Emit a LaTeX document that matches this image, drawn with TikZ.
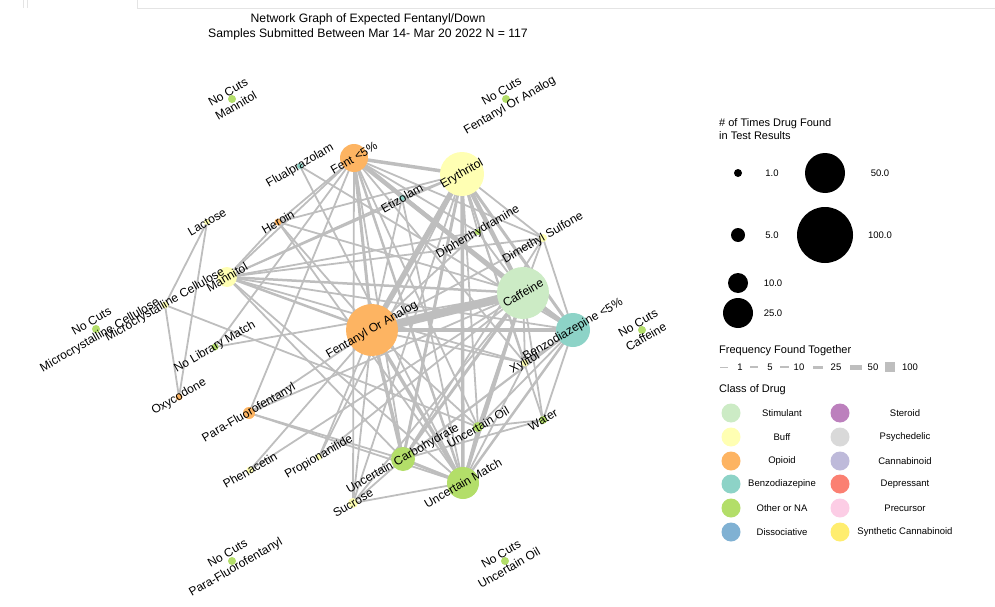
\documentclass[tikz,border=0pt]{standalone}
\usepackage{fontspec}
\setmainfont{Liberation Sans}
\definecolor{cStim}{HTML}{CCEBC5}
\definecolor{cBuff}{HTML}{FFFFB3}
\definecolor{cOpi}{HTML}{FDB462}
\definecolor{cBenz}{HTML}{8DD3C7}
\definecolor{cOth}{HTML}{B3DE69}
\definecolor{cDiss}{HTML}{80B1D3}
\definecolor{cSter}{HTML}{BC80BD}
\definecolor{cPsy}{HTML}{D9D9D9}
\definecolor{cCann}{HTML}{BEBADA}
\definecolor{cDep}{HTML}{FB8072}
\definecolor{cPre}{HTML}{FCCDE5}
\definecolor{cSyn}{HTML}{FFED6F}
\definecolor{edgecol}{RGB}{190,190,190}
\definecolor{tabline}{RGB}{228,228,228}
\tikzset{
  edge/.style={draw=edgecol, line width=1.8pt},
  dot/.style={circle, inner sep=0pt, draw=none},
  lab/.style={font=\fontsize{12}{16}\selectfont, rotate=30, inner sep=0pt, align=center},
  legtitle/.style={font=\fontsize{11}{13}\selectfont, anchor=west, inner sep=0pt, align=left},
  legtext/.style={font=\fontsize{9.5}{11}\selectfont, inner sep=0pt},
  freqseg/.style={draw=edgecol},
}
\begin{document}
\begin{tikzpicture}[x=1pt,y=-1pt]
\useasboundingbox (0,0) rectangle (995,607);
% tab artefacts
\draw[tabline, line width=0.8pt] (23,0) -- (23,8);
\draw[tabline, line width=0.8pt] (27,0) -- (27,8);
\draw[tabline, line width=0.8pt] (137,0) -- (137,8) -- (995,8);
% title
\node[font=\fontsize{12.2}{14.5}\selectfont, align=center, inner sep=0pt] (title) at (368,27)
  {Network Graph of Expected Fentanyl/Down\\Samples Submitted Between Mar 14- Mar 20 2022 N = 117};
% node positions
\coordinate (fent) at (354,158);
\coordinate (ery) at (462,174);
\coordinate (flu) at (300,166);
\coordinate (eti) at (402,198);
\coordinate (her) at (278,222);
\coordinate (lac) at (207,222);
\coordinate (diph) at (478,232);
\coordinate (dms) at (543,238);
\coordinate (man) at (227,277);
\coordinate (mcc) at (165,305);
\coordinate (nlm) at (215,347);
\coordinate (oxy) at (179,397);
\coordinate (pff) at (249,413);
\coordinate (foa) at (372,330);
\coordinate (caf) at (523,293);
\coordinate (benz) at (573,330);
\coordinate (xyl) at (525,363);
\coordinate (uoil) at (478,427);
\coordinate (wat) at (543,420);
\coordinate (uc) at (403,459);
\coordinate (um) at (463,483);
\coordinate (suc) at (353,503);
\coordinate (prop) at (319,457);
\coordinate (phen) at (250,470);
\coordinate (ncman) at (232,99);
\coordinate (ncfoa) at (506,99);
\coordinate (ncmcc) at (96,329);
\coordinate (nccaf) at (642,330);
\coordinate (ncpff) at (232,561);
\coordinate (ncuoil) at (505,561);
% edges
\foreach \a/\b/\w in {
 foa/caf/8.5, ery/foa/5.5, foa/benz/4.5, caf/benz/4.5, fent/caf/4.5, ery/caf/4.5,
 fent/ery/3.5, ery/um/3.5, foa/um/3.5, foa/uc/3.5, caf/um/3.5, caf/uc/3, ery/uc/3,
 fent/foa/3, fent/benz/3, ery/benz/3, uc/um/3, benz/um/2.5, fent/um/2.5,
 man/foa/2.5, man/caf/2.5, benz/uc/2.2}
 \draw[edge, line width=\w pt] (\a) -- (\b);
\foreach \a/\b in {
 fent/uc, fent/man, fent/pff, fent/nlm, fent/xyl, fent/uoil, fent/dms, fent/diph, fent/suc, fent/eti, fent/her,
 ery/man, ery/eti, ery/her, ery/diph, ery/dms, ery/xyl, ery/uoil, ery/suc, ery/prop, ery/wat,
 man/benz, man/um, man/uc, man/her, man/eti, man/dms, man/diph, man/xyl,
 her/foa, her/caf, her/um, flu/um, flu/benz,
 pff/foa, pff/caf, pff/um, pff/uc, phen/foa, phen/caf, prop/foa, prop/caf,
 suc/foa, suc/caf, suc/uc, suc/um,
 xyl/caf, xyl/foa, xyl/benz, xyl/um,
 uoil/caf, uoil/foa, uoil/benz, uoil/wat, uoil/um,
 wat/caf, wat/benz, wat/uc, dms/caf, dms/benz, dms/foa, dms/uc,
 diph/foa, diph/caf, eti/foa, eti/um, nlm/caf,
 lac/mcc, lac/oxy, mcc/oxy, mcc/uoil}
 \draw[edge] (\a) -- (\b);
% node circles
\node[dot, fill=cOpi, minimum size=28pt] (fentc) at (fent) {};
\node[dot, fill=cBuff, minimum size=44pt] (eryc) at (ery) {};
\node[dot, fill=cBenz, minimum size=6pt] (fluc) at (flu) {};
\node[dot, fill=cBenz, minimum size=6pt] (etic) at (eti) {};
\node[dot, fill=cOpi, minimum size=7pt] (herc) at (her) {};
\node[dot, fill=cBuff, minimum size=6pt] (lacc) at (lac) {};
\node[dot, fill=cOth, minimum size=6pt] (diphc) at (diph) {};
\node[dot, fill=cBuff, minimum size=8pt] (dmsc) at (dms) {};
\node[dot, fill=cBuff, minimum size=20pt] (manc) at (man) {};
\node[dot, fill=cBuff, minimum size=7pt] (mccc) at (mcc) {};
\node[dot, fill=cOth, minimum size=7pt] (nlmc) at (nlm) {};
\node[dot, fill=cOpi, minimum size=7pt] (oxyc) at (oxy) {};
\node[dot, fill=cOpi, minimum size=12pt] (pffc) at (pff) {};
\node[dot, fill=cOpi, minimum size=52pt] (foac) at (foa) {};
\node[dot, fill=cStim, minimum size=52pt] (cafc) at (caf) {};
\node[dot, fill=cBenz, minimum size=34pt] (benzc) at (benz) {};
\node[dot, fill=cBuff, minimum size=7pt] (xylc) at (xyl) {};
\node[dot, fill=cOth, minimum size=10pt] (uoilc) at (uoil) {};
\node[dot, fill=cOth, minimum size=8pt] (watc) at (wat) {};
\node[dot, fill=cOth, minimum size=24pt] (ucc) at (uc) {};
\node[dot, fill=cOth, minimum size=32pt] (umc) at (um) {};
\node[dot, fill=cBuff, minimum size=10pt] (succ) at (suc) {};
\node[dot, fill=cBuff, minimum size=6pt] (propc) at (prop) {};
\node[dot, fill=cBuff, minimum size=7pt] (phenc) at (phen) {};
\foreach \n in {ncman, ncfoa, ncmcc, nccaf, ncpff, ncuoil}
  \node[dot, fill=cOth, minimum size=8pt] (\n c) at (\n) {};
% labels
\node[lab] (fentl) at (fent) {Fent <5\%};
\node[lab] (eryl) at (ery) {Erythritol};
\node[lab] (flul) at (flu) {Flualprazolam};
\node[lab] (etil) at (eti) {Etizolam};
\node[lab] (herl) at (her) {Heroin};
\node[lab] (lacl) at (lac) {Lactose};
\node[lab] (diphl) at (diph) {Diphenhydramine};
\node[lab] (dmsl) at (dms) {Dimethyl Sulfone};
\node[lab] (manl) at (man) {Mannitol};
\node[lab] (mccl) at (mcc) {Microcrystalline Cellulose};
\node[lab] (nlml) at (nlm) {No Library Match};
\node[lab] (oxyl) at (oxy) {Oxycodone};
\node[lab] (pffl) at (pff) {Para-Fluorofentanyl};
\node[lab] (foal) at (foa) {Fentanyl Or Analog};
\node[lab] (cafl) at (caf) {Caffeine};
\node[lab] (benzl) at (benz) {Benzodiazepine <5\%};
\node[lab] (xyll) at (xyl) {Xylitol};
\node[lab] (uoill) at (uoil) {Uncertain Oil};
\node[lab] (watl) at (wat) {Water};
\node[lab] (ucl) at (uc) {Uncertain Carbohydrate};
\node[lab] (uml) at (um) {Uncertain Match};
\node[lab] (sucl) at (suc) {Sucrose};
\node[lab] (propl) at (prop) {Propionanilide};
\node[lab] (phenl) at (phen) {Phenacetin};
\node[lab] (ncmanl) at (ncman) {No Cuts\\Mannitol};
\node[lab] (ncfoal) at (ncfoa) {No Cuts\\Fentanyl Or Analog};
\node[lab] (ncmccl) at (ncmcc) {No Cuts\\Microcrystalline Cellulose};
\node[lab] (nccafl) at (nccaf) {No Cuts\\Caffeine};
\node[lab] (ncpffl) at (ncpff) {No Cuts\\Para-Fluorofentanyl};
\node[lab] (ncuoill) at (ncuoil) {No Cuts\\Uncertain Oil};
% legend: sizes
\node[legtitle] (lt1) at (719,129) {\# of Times Drug Found\\in Test Results};
\node[dot, fill=black, minimum size=8pt] (s1) at (738,173) {};
\node[legtext] (s1l) at (772,173) {1.0};
\node[dot, fill=black, minimum size=40pt] (s50) at (825,173) {};
\node[legtext] (s50l) at (880,173) {50.0};
\node[dot, fill=black, minimum size=14pt] (s5) at (738,235) {};
\node[legtext] (s5l) at (772,235) {5.0};
\node[dot, fill=black, minimum size=56pt] (s100) at (825,235) {};
\node[legtext] (s100l) at (880,235) {100.0};
\node[dot, fill=black, minimum size=20pt] (s10) at (738,283) {};
\node[legtext] (s10l) at (773,283) {10.0};
\node[dot, fill=black, minimum size=30pt] (s25) at (738,313) {};
\node[legtext] (s25l) at (773,313) {25.0};
% legend: frequency
\node[legtitle] (lt2) at (719,351) {Frequency Found Together};
\foreach \xa/\xb/\w/\t/\xt [count=\i] in {720/728/1/1/740, 750/758/1.5/5/770, 780/789/2/10/799, 813/823/3/25/836, 850/862/5/50/873, 885/895/10/100/910} {
  \coordinate (fa\i) at (\xa,367);
  \coordinate (fb\i) at (\xb,367);
  \draw[freqseg, line width=\w pt] (fa\i) -- (fb\i);
  \node[legtext] (ft\i) at (\xt,367) {\t};
}
% legend: class
\node[legtitle] (lt3) at (719,390) {Class of Drug};
\foreach \c/\t/\y [count=\i] in {cStim/Stimulant/413, cBuff/Buff/437, cOpi/Opioid/461, cBenz/Benzodiazepine/484, cOth/Other or NA/508, cDiss/Dissociative/532} {
  \node[dot, fill=\c, minimum size=19pt] (ca\i) at (731,\y) {};
  \node[legtext] (cal\i) at (782,\y) {\t};
}
\foreach \c/\t/\y [count=\i] in {cSter/Steroid/413, cPsy/Psychedelic/437, cCann/Cannabinoid/461, cDep/Depressant/484, cPre/Precursor/508, cSyn/Synthetic Cannabinoid/532} {
  \node[dot, fill=\c, minimum size=19pt] (cb\i) at (840,\y) {};
  \node[legtext] (cbl\i) at (905,\y) {\t};
}
\end{tikzpicture}
\end{document}
